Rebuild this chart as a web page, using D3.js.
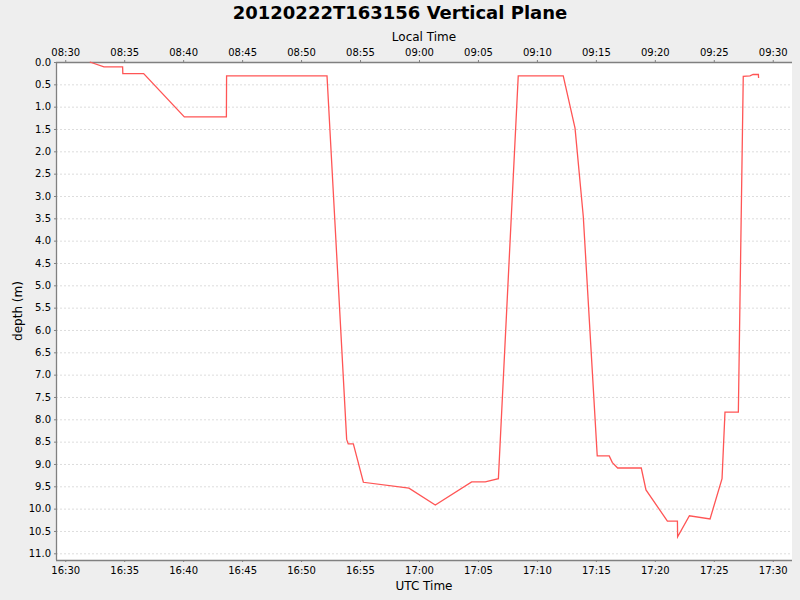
<!DOCTYPE html>
<html>
<head>
<meta charset="utf-8">
<script src="https://cdn.jsdelivr.net/npm/d3@7"></script>
<style>
  body { margin: 0; background: #eeeeee; }
  svg { display: block; font-family: "DejaVu Sans", sans-serif; }
</style>
</head>
<body>
<script>
// Vertical plane dive profile: depth against time (UTC), local time on top
const width = 800, height = 600;
const margin = { top: 62, right: 8, bottom: 40, left: 56 };

const day = "2012-02-22";
const utcTimes = ["16:32:05", "16:33:17", "16:34:52", "16:34:53", "16:36:39", "16:40:06",
    "16:43:40", "16:43:41", "16:52:12", "16:53:52", "16:54:00", "16:54:26", "16:55:17",
    "16:59:09", "17:01:23", "17:04:28", "17:05:37", "17:06:44", "17:08:25", "17:12:14",
    "17:13:14", "17:13:56", "17:15:07", "17:16:08", "17:16:24", "17:16:51", "17:18:51",
    "17:19:15", "17:21:04", "17:21:55", "17:21:56", "17:22:56", "17:24:41", "17:25:42",
    "17:25:57", "17:27:05", "17:27:30", "17:28:04", "17:28:20", "17:28:47", "17:28:48"];
const depths = [0.00, 0.11, 0.11, 0.26, 0.26, 1.23,
    1.23, 0.31, 0.31, 8.45, 8.55, 8.55, 9.41,
    9.54, 9.92, 9.40, 9.40, 9.33, 0.31, 0.31,
    1.48, 3.46, 8.82, 8.82, 8.97, 9.09, 9.09,
    9.58, 10.28, 10.28, 10.63, 10.16, 10.23, 9.33,
    7.84, 7.84, 0.32, 0.31, 0.28, 0.28, 0.36];
const yTicks = d3.range(0, 11.01, 0.5);
const timeDomain = ["16:29:13", "17:31:38"];
const depthDomain = [0, 11.15];
const localOffsetHours = -8;

const parse = t => new Date(`${day}T${t}Z`);
const data = utcTimes.map((t, i) => ({ t: parse(t), d: depths[i] }));

const svg = d3.select("body").append("svg")
    .attr("width", width)
    .attr("height", height);

svg.append("rect").attr("width", width).attr("height", height).attr("fill", "#eeeeee");

const x = d3.scaleUtc()
    .domain(timeDomain.map(parse))
    .range([margin.left, width - margin.right]);

// local time axis is the same scale shifted by the zone offset
const xLocal = d3.scaleUtc()
    .domain(x.domain().map(d => d3.utcHour.offset(d, localOffsetHours)))
    .range(x.range());

const y = d3.scaleLinear()
    .domain(depthDomain)
    .range([margin.top, height - margin.bottom]);

// plot background
svg.append("rect")
    .attr("x", margin.left).attr("y", margin.top)
    .attr("width", width - margin.left - margin.right)
    .attr("height", height - margin.top - margin.bottom)
    .attr("fill", "#ffffff");

// horizontal grid
svg.append("g").selectAll("line")
    .data(yTicks)
    .join("line")
    .attr("x1", margin.left).attr("x2", width - margin.right)
    .attr("y1", d => y(d) + 0.5).attr("y2", d => y(d) + 0.5)
    .attr("stroke", "#dddddd")
    .attr("stroke-dasharray", "2,2");

const fmt = d3.utcFormat("%H:%M");

const bottomAxis = svg.append("g")
    .attr("transform", `translate(0,${height - margin.bottom})`)
    .call(d3.axisBottom(x).ticks(d3.utcMinute.every(5)).tickFormat(fmt).tickSize(2).tickPadding(4.5));

const topAxis = svg.append("g")
    .attr("transform", `translate(0,${margin.top})`)
    .call(d3.axisTop(xLocal).ticks(d3.utcMinute.every(5)).tickFormat(fmt).tickSize(2).tickPadding(4));

const leftAxis = svg.append("g")
    .attr("transform", `translate(${margin.left},0)`)
    .call(d3.axisLeft(y).tickValues(yTicks).tickFormat(d3.format(".1f")).tickSize(2).tickPadding(3));

[bottomAxis, topAxis, leftAxis].forEach(g => {
    g.select(".domain").attr("stroke", "#808080").attr("stroke-width", 1.3);
    g.selectAll(".tick line").attr("stroke", "#808080");
    g.selectAll(".tick text").attr("fill", "#000000").attr("font-size", "10px")
        .attr("font-family", "DejaVu Sans");
});
leftAxis.select(".domain").attr("d", `M0.5,${margin.top}V${height - margin.bottom}`);
bottomAxis.select(".domain").attr("d", `M${margin.left},0.5H${width - margin.right}`);
topAxis.select(".domain").attr("d", `M${margin.left},0.5H${width - margin.right}`);

// depth trace
const line = d3.line()
    .x(d => x(d.t))
    .y(d => y(d.d));

svg.append("path")
    .datum(data)
    .attr("d", line)
    .attr("fill", "none")
    .attr("stroke", "#ff5555")
    .attr("stroke-width", 1.3);

// titles
svg.append("text")
    .attr("x", width / 2).attr("y", 19)
    .attr("text-anchor", "middle")
    .attr("font-size", "18px").attr("font-weight", "bold")
    .text("20120222T163156 Vertical Plane");

svg.append("text")
    .attr("x", (margin.left + width - margin.right) / 2).attr("y", 41)
    .attr("text-anchor", "middle")
    .attr("font-size", "12px")
    .text("Local Time");

svg.append("text")
    .attr("x", (margin.left + width - margin.right) / 2).attr("y", 590)
    .attr("text-anchor", "middle")
    .attr("font-size", "12px")
    .text("UTC Time");

svg.append("text")
    .attr("transform", `translate(22,${(margin.top + height - margin.bottom) / 2}) rotate(-90)`)
    .attr("text-anchor", "middle")
    .attr("font-size", "12px")
    .text("depth (m)");
</script>
</body>
</html>
